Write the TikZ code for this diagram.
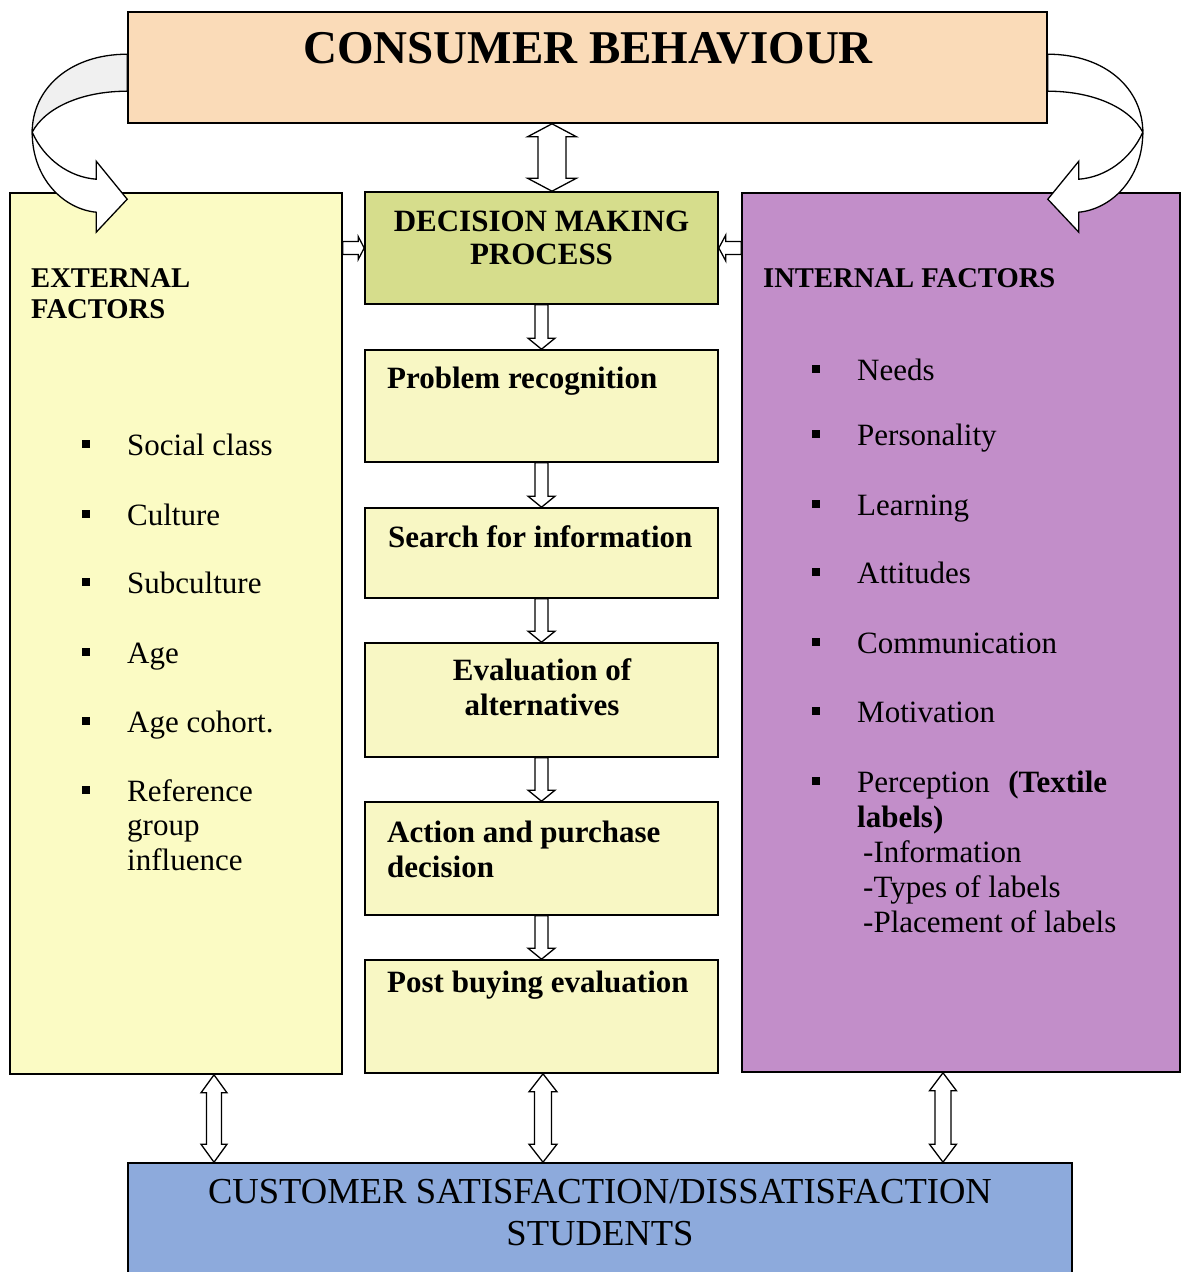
\documentclass[tikz,border=0pt]{standalone}
\usepackage{fontspec}
\setmainfont{Liberation Serif}
\usetikzlibrary{calc}

\definecolor{cbpeach}{RGB}{250,219,184}
\definecolor{extyellow}{RGB}{251,251,196}
\definecolor{dmpgreen}{RGB}{214,221,140}
\definecolor{stepyellow}{RGB}{248,247,196}
\definecolor{intpurple}{RGB}{194,142,201}
\definecolor{csblue}{RGB}{141,170,220}

\newcommand{\sqbullet}{\makebox[45pt][l]{\rule[7pt]{8pt}{8pt}}}
% hollow arrow pointing down from #1 to #2
\newcommand{\blkdown}[2]{%
  \draw[blockarrow] let \p1=(#1.south), \p2=(#2.north) in
    (\x2-6.5,\y1) -- (\x2-6.5,\y2+11) -- (\x2-13.5,\y2+11) -- (\x2,\y2)
    -- (\x2+13.5,\y2+11) -- (\x2+6.5,\y2+11) -- (\x2+6.5,\y1) -- cycle;}
% hollow two-headed arrow: top node, bottom node, x, shaft, head, head length
\newcommand{\blkupdown}[6]{%
  \draw[blockarrow] let \p1=(#1.south), \p2=(#2.north) in
    (#3-#4,\y1-#6) -- (#3-#5,\y1-#6) -- (#3,\y1) -- (#3+#5,\y1-#6) -- (#3+#4,\y1-#6)
    -- (#3+#4,\y2+#6) -- (#3+#5,\y2+#6) -- (#3,\y2) -- (#3-#5,\y2+#6) -- (#3-#4,\y2+#6) -- cycle;}
\newcommand{\blkright}[2]{%
  \draw[blockarrow] let \p1=(#1.east), \p2=(#2.west) in
    (\x1,\y2+6.5) -- (\x2-6,\y2+6.5) -- (\x2-6,\y2+11.5) -- (\x2,\y2)
    -- (\x2-6,\y2-11.5) -- (\x2-6,\y2-6.5) -- (\x1,\y2-6.5) -- cycle;}
\newcommand{\blkleft}[2]{%
  \draw[blockarrow] let \p1=(#1.west), \p2=(#2.east) in
    (\x1,\y2+6.5) -- (\x2+7,\y2+6.5) -- (\x2+7,\y2+13) -- (\x2,\y2)
    -- (\x2+7,\y2-13) -- (\x2+7,\y2-6.5) -- (\x1,\y2-6.5) -- cycle;}

\begin{document}
\begin{tikzpicture}[x=1pt, y=-1pt,
    box/.style={draw=black, line width=1.6pt, inner sep=0pt, rectangle},
    stepbox/.style={box, fill=stepyellow, minimum width=353pt},
    blockarrow/.style={draw=black, fill=white, line width=1.3pt, line join=miter},
    heading/.style={inner sep=0pt, anchor=base, font=\bfseries\fontsize{47}{52}\selectfont},
    steptext/.style={inner sep=0pt, anchor=base west, align=left,
        font=\bfseries\fontsize{31}{35}\selectfont},
    sidetext/.style={inner sep=0pt, anchor=base west, align=left,
        font=\bfseries\fontsize{28.6}{31}\selectfont},
    item/.style={inner sep=0pt, anchor=base west, align=left,
        font=\fontsize{31}{34.5}\selectfont}
]
    \useasboundingbox (0,0) rectangle (1181,1272);

    % boxes
    \node[box, fill=cbpeach, minimum width=919pt, minimum height=111pt] (cb) at (587.5,67.5) {};
    \node[box, fill=extyellow, minimum width=332pt, minimum height=881pt] (ext) at (176,633.5) {};
    \node[box, fill=intpurple, minimum width=438pt, minimum height=879pt] (int) at (961,632.5) {};
    \node[box, fill=dmpgreen, minimum width=353pt, minimum height=112pt] (dmp) at (541.5,248) {};
    \node[stepbox, minimum height=112pt] (pr) at (541.5,406) {};
    \node[stepbox, minimum height=90pt] (sfi) at (541.5,553) {};
    \node[stepbox, minimum height=114pt] (eva) at (541.5,700) {};
    \node[stepbox, minimum height=113pt] (apd) at (541.5,858.5) {};
    \node[stepbox, minimum height=113pt] (pbe) at (541.5,1016.5) {};
    \node[box, fill=csblue, minimum width=944pt, minimum height=113pt] (cs) at (600,1219.5) {};

    % texts (multi-line ones sit on their last baseline)
    \node[heading] (cbtext) at (588,63) {CONSUMER BEHAVIOUR};
    \node[steptext, anchor=base, align=center, font=\bfseries\fontsize{31}{33}\selectfont]
        (dmptext) at (541.5,264) {DECISION MAKING\\PROCESS};
    \node[sidetext] (exttext) at (31,318) {EXTERNAL\\FACTORS};
    \node[sidetext] (inttext) at (763,287) {INTERNAL FACTORS};
    \node[steptext] (prtext) at (387,388) {Problem recognition};
    \node[steptext] (sfitext) at (388,547) {Search for information};
    \node[steptext, anchor=base, align=center] (evatext) at (542,715) {Evaluation of\\alternatives};
    \node[steptext] (apdtext) at (387,877) {Action and purchase\\decision};
    \node[steptext] (pbetext) at (387,992) {Post buying evaluation};
    \node[inner sep=0pt, anchor=base, align=center, font=\fontsize{36.6}{42}\selectfont]
        (cstext) at (600,1245) {CUSTOMER SATISFACTION/DISSATISFACTION\\STUDENTS};

    \node[item] (soc) at (82,455) {\sqbullet Social class};
    \node[item] (cul) at (82,525) {\sqbullet Culture};
    \node[item] (sub) at (82,593) {\sqbullet Subculture};
    \node[item] (age) at (82,663) {\sqbullet Age};
    \node[item] (coh) at (82,732) {\sqbullet Age cohort.};
    \node[item] (ref) at (82,870) {\sqbullet Reference\\\hspace*{45pt}group\\\hspace*{45pt}influence};

    \node[item] (nee) at (812,380) {\sqbullet Needs};
    \node[item] (per) at (812,445) {\sqbullet Personality};
    \node[item] (lea) at (812,515) {\sqbullet Learning};
    \node[item] (att) at (812,583) {\sqbullet Attitudes};
    \node[item] (com) at (812,653) {\sqbullet Communication};
    \node[item] (mot) at (812,722) {\sqbullet Motivation};
    \node[item, font=\fontsize{31}{35}\selectfont] (perc) at (812,932)
        {\sqbullet Perception\hspace{0.6em}\textbf{(Textile}\\
        \hspace*{45pt}\textbf{labels)}\\\hspace*{51pt}-Information\\
        \hspace*{51pt}-Types of labels\\\hspace*{51pt}-Placement of labels};

    % arrows
    \blkupdown{cb}{dmp}{552pt}{14}{24.5}{13}
    \blkright{ext}{dmp}
    \blkleft{int}{dmp}
    \blkdown{dmp}{pr}
    \blkdown{pr}{sfi}
    \blkdown{sfi}{eva}
    \blkdown{eva}{apd}
    \blkdown{apd}{pbe}
    \blkupdown{ext}{cs}{214pt}{7.5}{13}{18}
    \blkupdown{pbe}{cs}{543pt}{8.5}{14}{18}
    \blkupdown{int}{cs}{943pt}{8}{13.5}{18}

    % curved arrows from the top box
    \begin{scope}[shift={(cb.north west)}]
        \draw[blockarrow, fill=gray!12] (0,43) .. controls (-58,43) and (-95,78) .. (-95,121)
            .. controls (-83,98) and (-48,80) .. (0,80) -- cycle;
        \draw[blockarrow] (-95,121) .. controls (-83,148) and (-58,166) .. (-31,168)
            -- (-31,150) -- (0,188) -- (-31,221) -- (-31,201)
            .. controls (-63,198) and (-95,168) .. (-95,121) -- cycle;
    \end{scope}
    \begin{scope}[shift={(cb.north east)}, xscale=-1]
        \draw[blockarrow] (0,43) .. controls (-58,43) and (-95,78) .. (-95,121)
            .. controls (-83,98) and (-48,80) .. (0,80) -- cycle;
        \draw[blockarrow] (-95,121) .. controls (-83,148) and (-58,166) .. (-31,168)
            -- (-31,150) -- (0,188) -- (-31,221) -- (-31,201)
            .. controls (-63,198) and (-95,168) .. (-95,121) -- cycle;
    \end{scope}
\end{tikzpicture}
\end{document}
